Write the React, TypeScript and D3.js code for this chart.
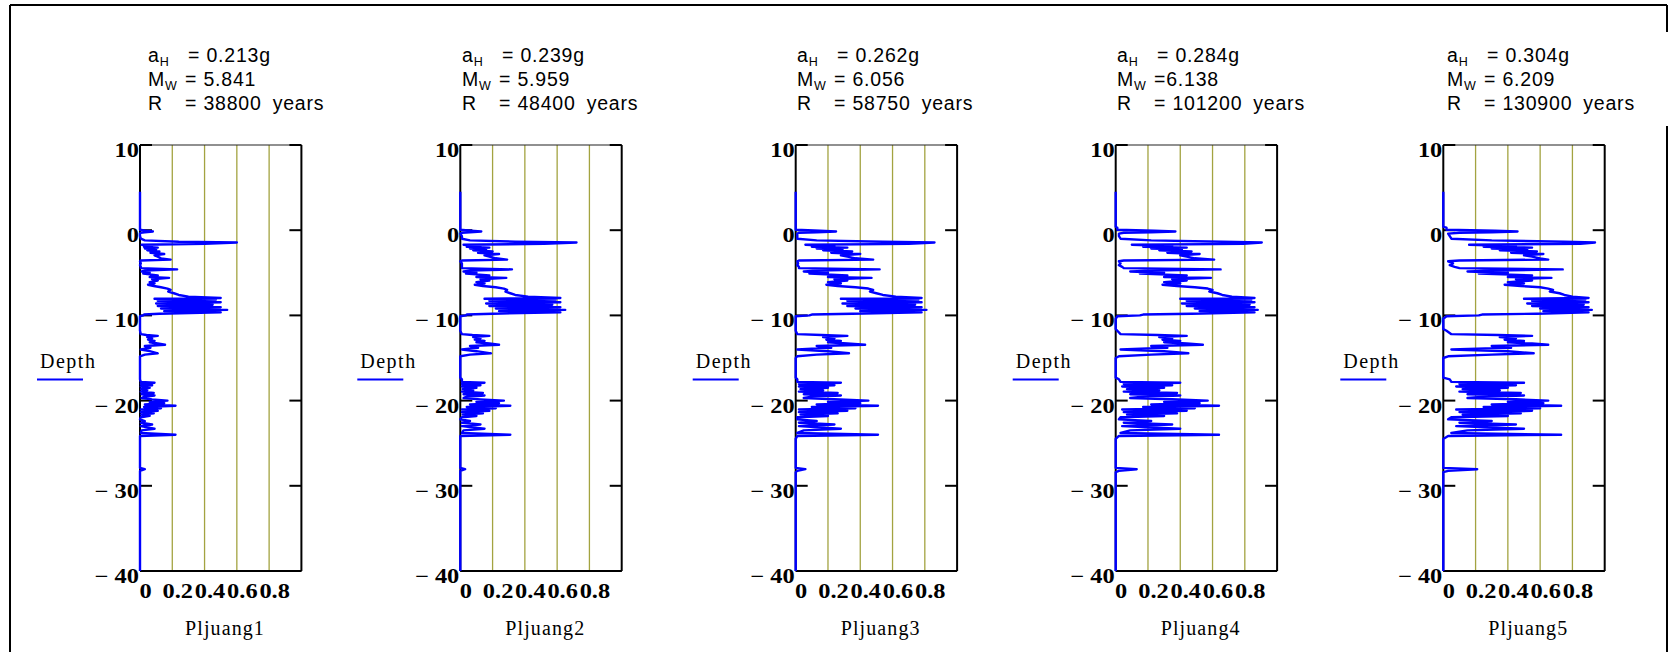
import React from "react";
import * as d3 from "d3";

// ---------------- data ----------------
const PANEL_NAMES = ["Pljuang1", "Pljuang2", "Pljuang3", "Pljuang4", "Pljuang5"];
const A_H = ["= 0.213g", "= 0.239g", "= 0.262g", "= 0.284g", "= 0.304g"];
const M_W = ["= 5.841", "= 5.959", "= 6.056", "=6.138", "= 6.209"];
const R_VAL = ["= 38800", "= 48400", "= 58750", "= 101200", "= 130900"];
const R_UNIT = "years";
const Y_TICKS = [10, 0, -10, -20, -30, -40];
const X_TICKS = [0, 0.2, 0.4, 0.6, 0.8];
const X_GRID = [0.2, 0.4, 0.6, 0.8];

const DEPTH = [
  4.5, 0.4, 0.3, 0.05, -0.05, -0.15, -0.25, -0.3, -0.4, -0.7,
  -1.0, -1.2, -1.35, -1.45, -1.6, -1.7, -1.85, -1.95, -2.05, -2.15,
  -2.25, -2.35, -2.5, -2.65, -2.8, -2.95, -3.1, -3.3, -3.45, -3.55,
  -3.65, -3.9, -4.1, -4.3, -4.45, -4.6, -4.75, -4.85, -5.0, -5.1,
  -5.3, -5.5, -5.6, -5.75, -5.9, -6.1, -6.25, -6.4, -6.55, -6.7,
  -6.85, -7.0, -7.2, -7.4, -7.6, -7.8, -7.95, -8.05, -8.15, -8.3,
  -8.45, -8.6, -8.75, -8.9, -9.05, -9.2, -9.35, -9.5, -9.65, -9.8,
  -9.9, -10.0, -10.1, -10.4, -11.6, -11.8, -12.2, -12.3, -12.4, -12.55,
  -12.7, -12.85, -13.0, -13.15, -13.3, -13.45, -13.6, -13.8, -14.0, -14.2,
  -14.45, -14.6, -14.8, -15.0, -17.3, -17.5, -17.8, -17.9, -18.05, -18.2,
  -18.35, -18.5, -18.65, -18.8, -18.95, -19.1, -19.25, -19.4, -19.55, -19.7,
  -19.85, -20.0, -20.15, -20.3, -20.45, -20.6, -20.75, -20.9, -21.05, -21.2,
  -21.35, -21.5, -21.65, -21.8, -21.95, -22.2, -22.4, -22.6, -22.8, -23.0,
  -23.3, -23.5, -23.8, -24.0, -24.15, -24.5, -27.9, -28.05, -28.25, -28.4,
  -40,
];

const PL1 = [
  0, 0, 0, 0, 0.035, 0.08, 0.03, 0.005, 0, 0,
  0.005, 0.03, 0.24, 0.6, 0.4, 0.01, 0.075, 0.025, 0.11, 0.03,
  0.1, 0.045, 0.12, 0.065, 0.15, 0.09, 0.11, 0.13, 0.19, 0.005,
  0, 0.005, 0, 0.005, 0.005, 0.23, 0.03, 0.01, 0.06, 0.02,
  0.11, 0.06, 0.18, 0.075, 0.11, 0.06, 0.09, 0.05, 0.085, 0.13,
  0.17, 0.19, 0.175, 0.21, 0.24, 0.3, 0.5, 0.09, 0.47, 0.11,
  0.5, 0.1, 0.45, 0.11, 0.5, 0.13, 0.54, 0.15, 0.5, 0.12,
  0.025, 0.02, 0, 0, 0, 0, 0.005, 0.04, 0.11, 0.045,
  0.075, 0.05, 0.09, 0.06, 0.11, 0.155, 0.03, 0.065, 0.005, 0.06,
  0.11, 0.03, 0, 0, 0, 0, 0.005, 0.09, 0.005, 0.075,
  0.005, 0.06, 0.007, 0.045, 0.005, 0.085, 0.01, 0.09, 0.025, 0.01,
  0.075, 0.17, 0.06, 0.15, 0.03, 0.22, 0.025, 0.13, 0.005, 0.11,
  0.005, 0.085, 0.007, 0.06, 0.005, 0, 0.03, 0.005, 0.075, 0.005,
  0.09, 0.01, 0.005, 0.22, 0, 0, 0, 0.03, 0, 0,
  0,
];

const PL2 = [
  0, 0, 0, 0, 0.065, 0.13, 0.06, 0.01, 0, 0.01,
  0.01, 0.06, 0.34, 0.72, 0.52, 0.02, 0.125, 0.04, 0.18, 0.06,
  0.16, 0.08, 0.2, 0.11, 0.24, 0.15, 0.18, 0.22, 0.29, 0.01,
  0, 0.01, 0.01, 0.01, 0.01, 0.32, 0.06, 0.02, 0.1, 0.035,
  0.18, 0.1, 0.285, 0.125, 0.18, 0.1, 0.15, 0.09, 0.14, 0.22,
  0.27, 0.29, 0.28, 0.31, 0.34, 0.42, 0.62, 0.15, 0.59, 0.18,
  0.62, 0.16, 0.57, 0.18, 0.62, 0.22, 0.65, 0.24, 0.62, 0.2,
  0.04, 0.035, 0, 0, 0, 0, 0.01, 0.075, 0.18, 0.08,
  0.125, 0.09, 0.15, 0.1, 0.18, 0.24, 0.06, 0.11, 0.01, 0.1,
  0.19, 0.06, 0, 0, 0, 0.01, 0.01, 0.15, 0.01, 0.125,
  0.01, 0.1, 0.015, 0.08, 0.01, 0.14, 0.02, 0.15, 0.04, 0.02,
  0.125, 0.27, 0.1, 0.24, 0.06, 0.31, 0.04, 0.22, 0.01, 0.18,
  0.01, 0.14, 0.015, 0.1, 0.01, 0, 0.06, 0.01, 0.125, 0.01,
  0.15, 0.02, 0.01, 0.31, 0, 0, 0, 0.03, 0, 0,
  0,
];

const PL3 = [
  0, 0, 0, 0, 0.15, 0.25, 0.13, 0.02, 0.01, 0.01,
  0.01, 0.13, 0.54, 0.86, 0.7, 0.06, 0.24, 0.1, 0.32, 0.13,
  0.29, 0.17, 0.35, 0.22, 0.4, 0.28, 0.32, 0.37, 0.48, 0.02,
  0.01, 0.015, 0.01, 0.02, 0.02, 0.52, 0.13, 0.05, 0.2, 0.085,
  0.32, 0.2, 0.47, 0.24, 0.32, 0.2, 0.28, 0.19, 0.26, 0.37,
  0.45, 0.48, 0.46, 0.5, 0.54, 0.62, 0.78, 0.28, 0.76, 0.32,
  0.78, 0.29, 0.74, 0.32, 0.78, 0.37, 0.81, 0.4, 0.78, 0.35,
  0.1, 0.085, 0, 0, 0, 0, 0.01, 0.16, 0.32, 0.17,
  0.24, 0.19, 0.28, 0.2, 0.32, 0.43, 0.13, 0.22, 0.01, 0.2,
  0.33, 0.13, 0.01, 0, 0, 0.01, 0.01, 0.28, 0.02, 0.24,
  0.02, 0.2, 0.03, 0.17, 0.02, 0.26, 0.05, 0.28, 0.1, 0.05,
  0.24, 0.45, 0.2, 0.4, 0.13, 0.51, 0.1, 0.37, 0.02, 0.32,
  0.02, 0.26, 0.03, 0.2, 0.01, 0.01, 0.13, 0.02, 0.24, 0.02,
  0.28, 0.05, 0.01, 0.51, 0.01, 0, 0, 0.06, 0.01, 0,
  0,
];

const PL4 = [
  0, 0, 0.01, 0.01, 0.24, 0.37, 0.22, 0.05, 0.02, 0.02,
  0.03, 0.22, 0.66, 0.905, 0.79, 0.1, 0.35, 0.17, 0.44, 0.22,
  0.41, 0.27, 0.47, 0.32, 0.52, 0.4, 0.44, 0.49, 0.61, 0.05,
  0.02, 0.03, 0.02, 0.04, 0.05, 0.65, 0.22, 0.09, 0.3, 0.15,
  0.44, 0.3, 0.59, 0.35, 0.44, 0.3, 0.4, 0.29, 0.38, 0.49,
  0.57, 0.6, 0.58, 0.63, 0.66, 0.72, 0.86, 0.4, 0.84, 0.44,
  0.86, 0.41, 0.83, 0.44, 0.86, 0.49, 0.88, 0.52, 0.86, 0.47,
  0.17, 0.15, 0.01, 0, 0, 0.01, 0.03, 0.26, 0.44, 0.27,
  0.35, 0.29, 0.4, 0.3, 0.44, 0.54, 0.22, 0.32, 0.03, 0.3,
  0.45, 0.22, 0.02, 0, 0, 0.02, 0.03, 0.4, 0.05, 0.35,
  0.04, 0.3, 0.07, 0.27, 0.05, 0.38, 0.09, 0.4, 0.17, 0.09,
  0.35, 0.57, 0.3, 0.52, 0.22, 0.64, 0.17, 0.49, 0.04, 0.44,
  0.05, 0.38, 0.07, 0.3, 0.03, 0.02, 0.22, 0.05, 0.35, 0.04,
  0.4, 0.09, 0.03, 0.64, 0.02, 0, 0, 0.13, 0.02, 0,
  0,
];

const PL5 = [
  0, 0, 0.02, 0.02, 0.32, 0.46, 0.3, 0.1, 0.03, 0.04,
  0.05, 0.3, 0.75, 0.94, 0.85, 0.16, 0.45, 0.25, 0.55, 0.3,
  0.52, 0.35, 0.58, 0.42, 0.62, 0.5, 0.55, 0.6, 0.65, 0.1,
  0.03, 0.06, 0.04, 0.07, 0.1, 0.74, 0.3, 0.15, 0.4, 0.22,
  0.55, 0.4, 0.67, 0.45, 0.55, 0.4, 0.5, 0.38, 0.48, 0.6,
  0.65, 0.68, 0.66, 0.72, 0.75, 0.8, 0.9, 0.5, 0.88, 0.55,
  0.9, 0.52, 0.87, 0.55, 0.9, 0.6, 0.92, 0.62, 0.9, 0.58,
  0.24, 0.22, 0.02, 0, 0, 0.02, 0.05, 0.34, 0.55, 0.35,
  0.45, 0.38, 0.5, 0.4, 0.55, 0.65, 0.3, 0.42, 0.05, 0.4,
  0.56, 0.3, 0.03, 0, 0, 0.04, 0.05, 0.5, 0.1, 0.45,
  0.08, 0.4, 0.12, 0.35, 0.1, 0.48, 0.15, 0.5, 0.25, 0.15,
  0.45, 0.65, 0.4, 0.62, 0.3, 0.73, 0.25, 0.6, 0.08, 0.55,
  0.1, 0.48, 0.12, 0.4, 0.05, 0.03, 0.3, 0.1, 0.45, 0.08,
  0.5, 0.15, 0.05, 0.73, 0.03, 0, 0, 0.21, 0.03, 0,
  0,
];

const SERIES = [PL1, PL2, PL3, PL4, PL5];

// ---------------- layout ----------------
const W = 1676;
const H = 652;
const PLOT_LEFTS = [140, 460.3, 795.7, 1115.7, 1443.3];
const PLOT_W = 161.4;
const TOP = 145;
const BOTTOM = 571;
const HEADER_X = [148, 462, 797, 1117, 1447];
const BOLD_SX = 1.22;

const serif = "'Liberation Serif', 'Times New Roman', serif";
const sans = "'Liberation Sans', Arial, sans-serif";

function fmtY(v: number) {
  return v < 0 ? `\u2212 ${Math.abs(v)}` : `${v}`;
}

function Panel({ idx }: { idx: number }) {
  const left = PLOT_LEFTS[idx];
  const x = d3.scaleLinear().domain([0, 1]).range([left, left + PLOT_W]);
  const y = d3.scaleLinear().domain([10, -40]).range([TOP, BOTTOM]);
  const vals = SERIES[idx];
  const pts: [number, number][] = DEPTH.map((d, i) => [vals[i], d]);
  const line = d3
    .line<[number, number]>()
    .x((p) => x(p[0]))
    .y((p) => y(p[1]));
  const hx = HEADER_X[idx];
  const right = x(1);
  return (
    <g>
      {/* header */}
      <g fontFamily={sans} fontSize={19.5} fill="#000" letterSpacing={0.8}>
        <text y={62}>
          <tspan x={hx}>a</tspan>
          <tspan fontSize={12.5} dy={4} letterSpacing={0.3}>H</tspan>
          <tspan x={hx + 40} dy={-4}>{A_H[idx]}</tspan>
        </text>
        <text y={86}>
          <tspan x={hx}>M</tspan>
          <tspan fontSize={12.5} dy={4} letterSpacing={0.3}>W</tspan>
          <tspan x={hx + 37} dy={-4}>{M_W[idx]}</tspan>
        </text>
        <text y={110}>
          <tspan x={hx}>R</tspan>
          <tspan x={hx + 37}>{R_VAL[idx]}</tspan>
          <tspan dx={11}>{R_UNIT}</tspan>
        </text>
      </g>
      {/* grid */}
      {X_GRID.map((g) => (
        <line key={g} x1={x(g)} x2={x(g)} y1={TOP} y2={BOTTOM} stroke="#a3a340" strokeWidth={1.3} />
      ))}
      {/* frame */}
      <line x1={left} x2={right} y1={TOP} y2={TOP} stroke="#222" strokeWidth={1.2} />
      <line x1={left} x2={right} y1={BOTTOM} y2={BOTTOM} stroke="#000" strokeWidth={2} />
      <line x1={left} x2={left} y1={TOP} y2={BOTTOM} stroke="#000" strokeWidth={2} />
      <line x1={right} x2={right} y1={TOP} y2={BOTTOM} stroke="#000" strokeWidth={2} />
      {Y_TICKS.map((t) => (
        <g key={t}>
          <line x1={left} x2={left + 12} y1={y(t)} y2={y(t)} stroke="#000" strokeWidth={2} />
          <line x1={right - 12} x2={right} y1={y(t)} y2={y(t)} stroke="#000" strokeWidth={2} />
          <text
            transform={`translate(${left - 1},${y(t) + 12}) scale(${BOLD_SX},1)`}
            textAnchor="end"
            fontFamily={serif}
            fontWeight="bold"
            fontSize={20}
            style={{ whiteSpace: "pre" }}
          >
            {fmtY(t)}
          </text>
        </g>
      ))}
      {X_TICKS.map((t) => (
        <text
          key={t}
          transform={`translate(${x(t) + 5.5},${BOTTOM + 27}) scale(${BOLD_SX},1)`}
          textAnchor="middle"
          fontFamily={serif}
          fontWeight="bold"
          fontSize={20}
        >
          {t === 0 ? "0" : t.toFixed(1)}
        </text>
      ))}
      {/* data */}
      <path d={line(pts) || ""} fill="none" stroke="#0000ff" strokeWidth={2.4} strokeLinejoin="round" />
      {/* labels */}
      <text x={left + 85} y={635} textAnchor="middle" fontFamily={serif} fontSize={20} letterSpacing={1.1}>
        {PANEL_NAMES[idx]}
      </text>
      <text x={left - 100} y={368} fontFamily={serif} fontSize={20} letterSpacing={1.5}>
        Depth
      </text>
      <line x1={left - 103} x2={left - 57} y1={379.5} y2={379.5} stroke="#0000ff" strokeWidth={2} />
    </g>
  );
}

export default function App() {
  return (
    <svg
      width={W}
      height={H}
      viewBox={`0 0 ${W} ${H}`}
      style={{ position: "absolute", left: 0, top: 0, background: "#fff" }}
    >
      <rect x={0} y={0} width={W} height={H} fill="#fff" />
      {/* outer frame */}
      <line x1={10} x2={1667} y1={5} y2={5} stroke="#000" strokeWidth={2} />
      <line x1={10} x2={10} y1={5} y2={H} stroke="#000" strokeWidth={2} />
      <line x1={1667} x2={1667} y1={5} y2={32} stroke="#000" strokeWidth={2} />
      <line x1={1667} x2={1667} y1={126} y2={H} stroke="#000" strokeWidth={2} />
      {PANEL_NAMES.map((_, i) => (
        <Panel key={i} idx={i} />
      ))}
    </svg>
  );
}
